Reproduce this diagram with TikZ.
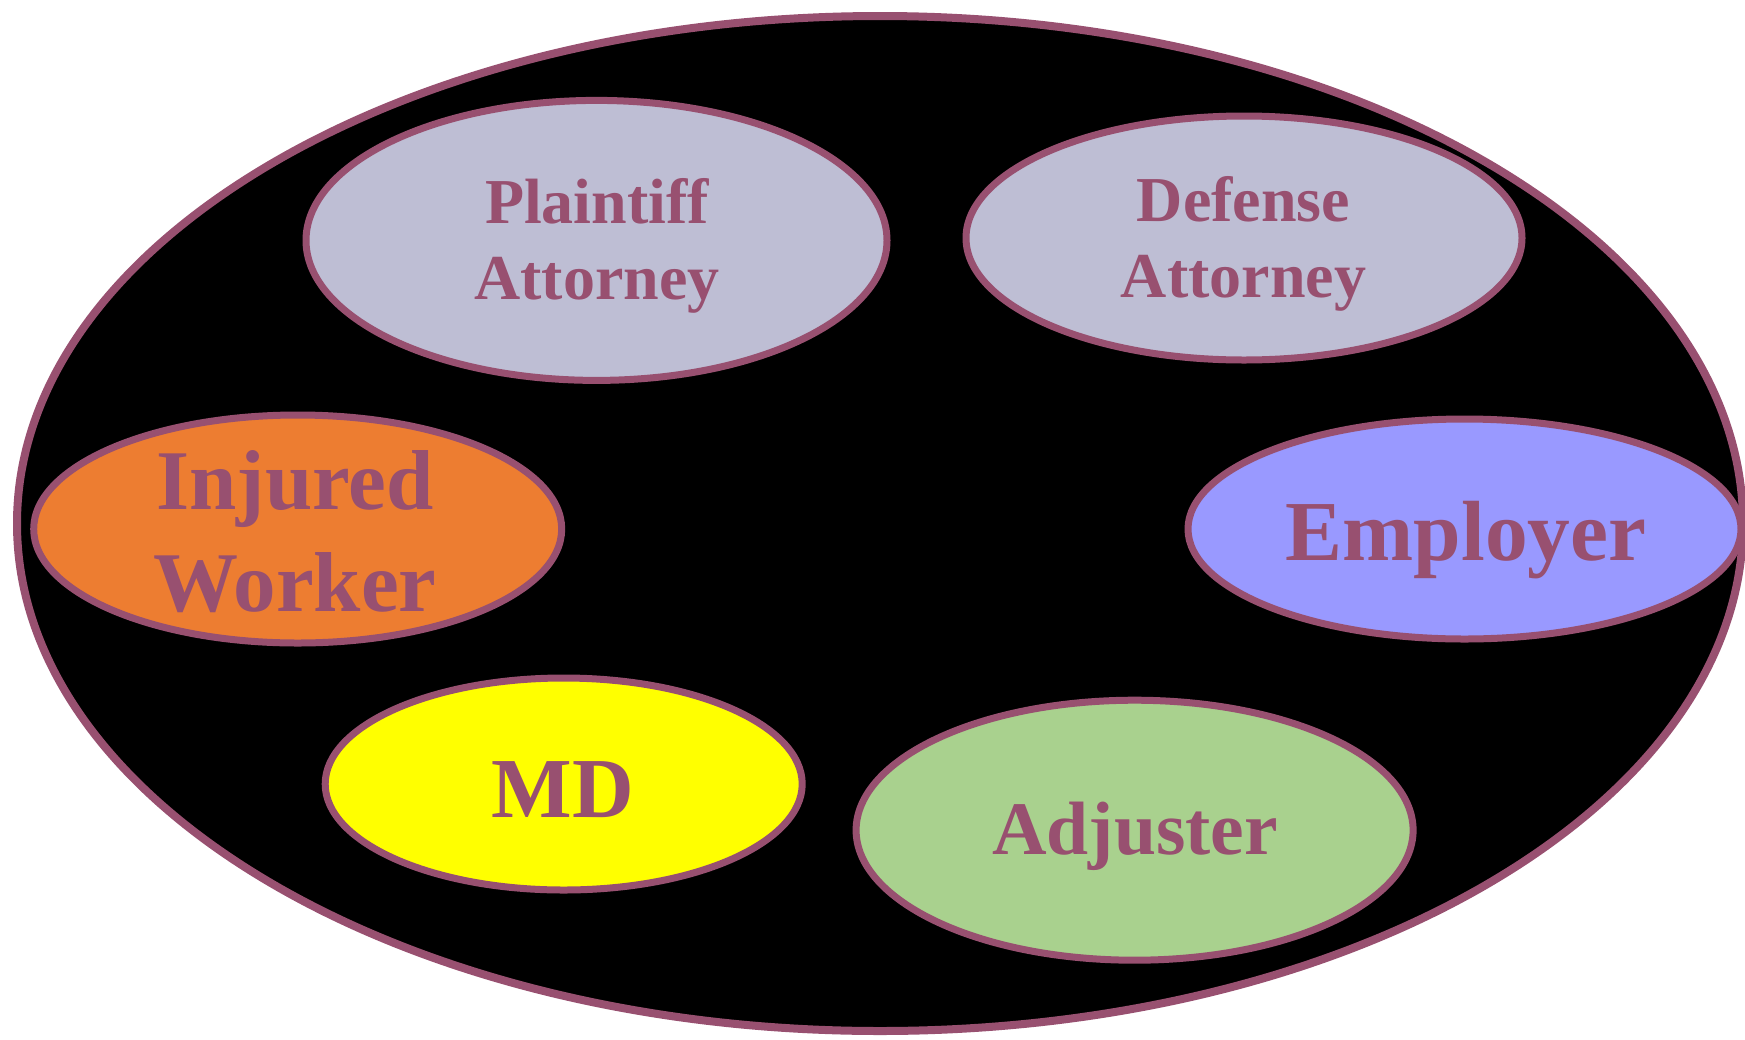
\documentclass[tikz,border=0pt]{standalone}
\usepackage{fontspec}
\setmainfont{Liberation Serif}
\usetikzlibrary{shapes.geometric}
\definecolor{edgec}{RGB}{152,80,112}
\definecolor{lav}{RGB}{190,190,212}
\definecolor{orng}{RGB}{237,125,49}
\definecolor{blu}{RGB}{153,153,255}
\definecolor{yel}{RGB}{255,255,0}
\definecolor{grn}{RGB}{169,209,142}
\tikzset{
  oval/.style={ellipse, draw=edgec, line width=3.5pt, inner sep=0pt},
  lbl/.style={text=edgec, align=center, inner sep=0pt}
}
\begin{document}
\begin{tikzpicture}[x=0.5pt,y=-0.5pt]
\useasboundingbox (0,0) rectangle (1745,1039);
\node[ellipse, draw=edgec, fill=black, line width=4pt, inner sep=0pt, minimum width=863pt, minimum height=507.5pt] (world) at (880,523.5) {};
\node[oval, fill=lav, minimum width=290.5pt, minimum height=140pt] (pl) at (596.5,240.4) {};
\node[oval, fill=lav, minimum width=278pt, minimum height=122pt] (df) at (1244,238) {};
\node[oval, fill=orng, minimum width=264pt, minimum height=114pt] (iw) at (297.7,529) {};
\node[oval, fill=blu, minimum width=276.5pt, minimum height=110pt] (em) at (1464.5,529) {};
\node[oval, fill=yel, minimum width=238.5pt, minimum height=106pt] (md) at (563.7,784) {};
\node[oval, fill=grn, minimum width=278.5pt, minimum height=130pt] (ad) at (1134.6,830.2) {};
\node[lbl, font=\bfseries\fontsize{32}{38}\selectfont] (plt) at (597,245.4) {Plaintiff\\Attorney};
\node[lbl, font=\bfseries\fontsize{32}{38}\selectfont] (dft) at (1243.6,244.3) {Defense\\Attorney};
\node[lbl, font=\bfseries\fontsize{42.5}{51}\selectfont] (iwt) at (295,531.4) {Injured\\Worker};
\node[lbl, font=\bfseries\fontsize{42.7}{50}\selectfont] (emt) at (1466,539.7) {Employer};
\node[lbl, font=\bfseries\fontsize{42.7}{50}\selectfont] (mdt) at (563,789.6) {MD};
\node[lbl, font=\bfseries\fontsize{37.8}{44}\selectfont] (adt) at (1135,836.3) {Adjuster};
\end{tikzpicture}
\end{document}
